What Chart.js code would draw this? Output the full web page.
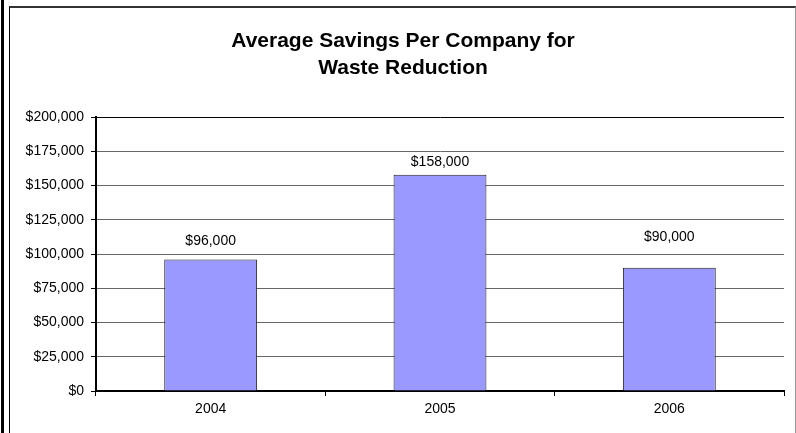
<!DOCTYPE html>
<html>
<head>
<meta charset="utf-8">
<script src="https://cdn.jsdelivr.net/npm/chart.js@4/dist/chart.umd.min.js"></script>
<style>
    body { margin: 0; background: #fff; }
    #wrap { position: relative; width: 796px; height: 433px; overflow: hidden; }
    .edge { position: absolute; }
    #thick { left: 1px; top: 0; width: 3px; height: 433px; background: #000; }
    #frame { left: 9px; top: 6px; width: 785px; height: 440px; border-left: 1px solid #000; border-top: 2px solid #333; border-right: 1px solid #999; }
    canvas { position: absolute; left: 0; top: 0; }
</style>
</head>
<body>
<div id="wrap">
    <div class="edge" id="thick"></div>
    <div class="edge" id="frame"></div>
    <canvas id="savingsChart" width="796" height="433"></canvas>
</div>
<script>
const years = ['2004', '2005', '2006'];
const savings = [96000, 158000, 90000];
const yTicks = [0, 25000, 50000, 75000, 100000, 125000, 150000, 175000, 200000];

const money = v => '$' + v.toLocaleString('en-US');

Chart.defaults.font.family = "'Liberation Sans', Arial, sans-serif";
Chart.defaults.color = '#000';

/* -------------------- VALUE LABELS -------------------- */

// Excel put each label at its own distance above the bar
const barLabels = {
    id: 'barLabels',
    afterDatasetsDraw(chart, args, opts) {
        const ctx = chart.ctx;
        const meta = chart.getDatasetMeta(0);
        ctx.save();
        ctx.font = "14px 'Liberation Sans', Arial, sans-serif";
        ctx.fillStyle = '#000';
        ctx.textAlign = 'center';
        ctx.textBaseline = 'middle';
        meta.data.forEach((bar, i) => {
            ctx.fillText(money(savings[i]), bar.x, bar.y - opts.gaps[i]);
        });
        ctx.restore();
    }
};

new Chart(document.getElementById('savingsChart'), {
    type: 'bar',
    data: {
        labels: years,
        datasets: [{
            data: savings,
            backgroundColor: '#9999ff',
            borderColor: '#222',
            borderWidth: 1,
            categoryPercentage: 1,
            barPercentage: 0.405
        }]
    },
    options: {
        responsive: false,
        animation: false,
        // left padding pushes the title centre over to where Excel had it
        layout: { padding: { left: 10, right: 0, top: 0, bottom: 0 } },
        plugins: {
            legend: { display: false },
            tooltip: { enabled: false },
            title: {
                display: true,
                text: ['Average Savings Per Company for', 'Waste Reduction'],
                color: '#000',
                font: { size: 21, weight: 'bold', lineHeight: 1.29 },
                padding: { top: 28, bottom: 35 }
            },
            barLabels: { gaps: [18, 13, 31] }
        },
        scales: {
            x: {
                offset: true,
                afterFit: s => { s.height = 42; },
                border: { color: '#000', width: 2 },
                grid: {
                    offset: true,
                    drawOnChartArea: true,
                    color: c => c.index === years.length ? '#000' : 'rgba(0,0,0,0)',
                    tickColor: '#000',
                    tickLength: 5
                },
                ticks: { font: { size: 14 }, padding: 5, color: '#000' }
            },
            y: {
                min: 0,
                max: 200000,
                afterFit: s => { s.width = 86; },
                afterBuildTicks: s => { s.ticks = yTicks.map(v => ({ value: v })); },
                border: { color: '#000', width: 2 },
                grid: {
                    color: c => c.tick && c.tick.value === 200000 ? '#000' : '#666',
                    tickColor: '#000',
                    tickLength: 5
                },
                ticks: { font: { size: 14 }, padding: 7, color: '#000', callback: v => money(v) }
            },
            // empty spacer on the right so the plot stops short of the frame
            spacer: {
                type: 'linear',
                position: 'right',
                afterFit: s => { s.width = 12; },
                grid: { display: false },
                border: { display: false },
                ticks: { display: false }
            }
        }
    },
    plugins: [barLabels]
});
</script>
</body>
</html>
